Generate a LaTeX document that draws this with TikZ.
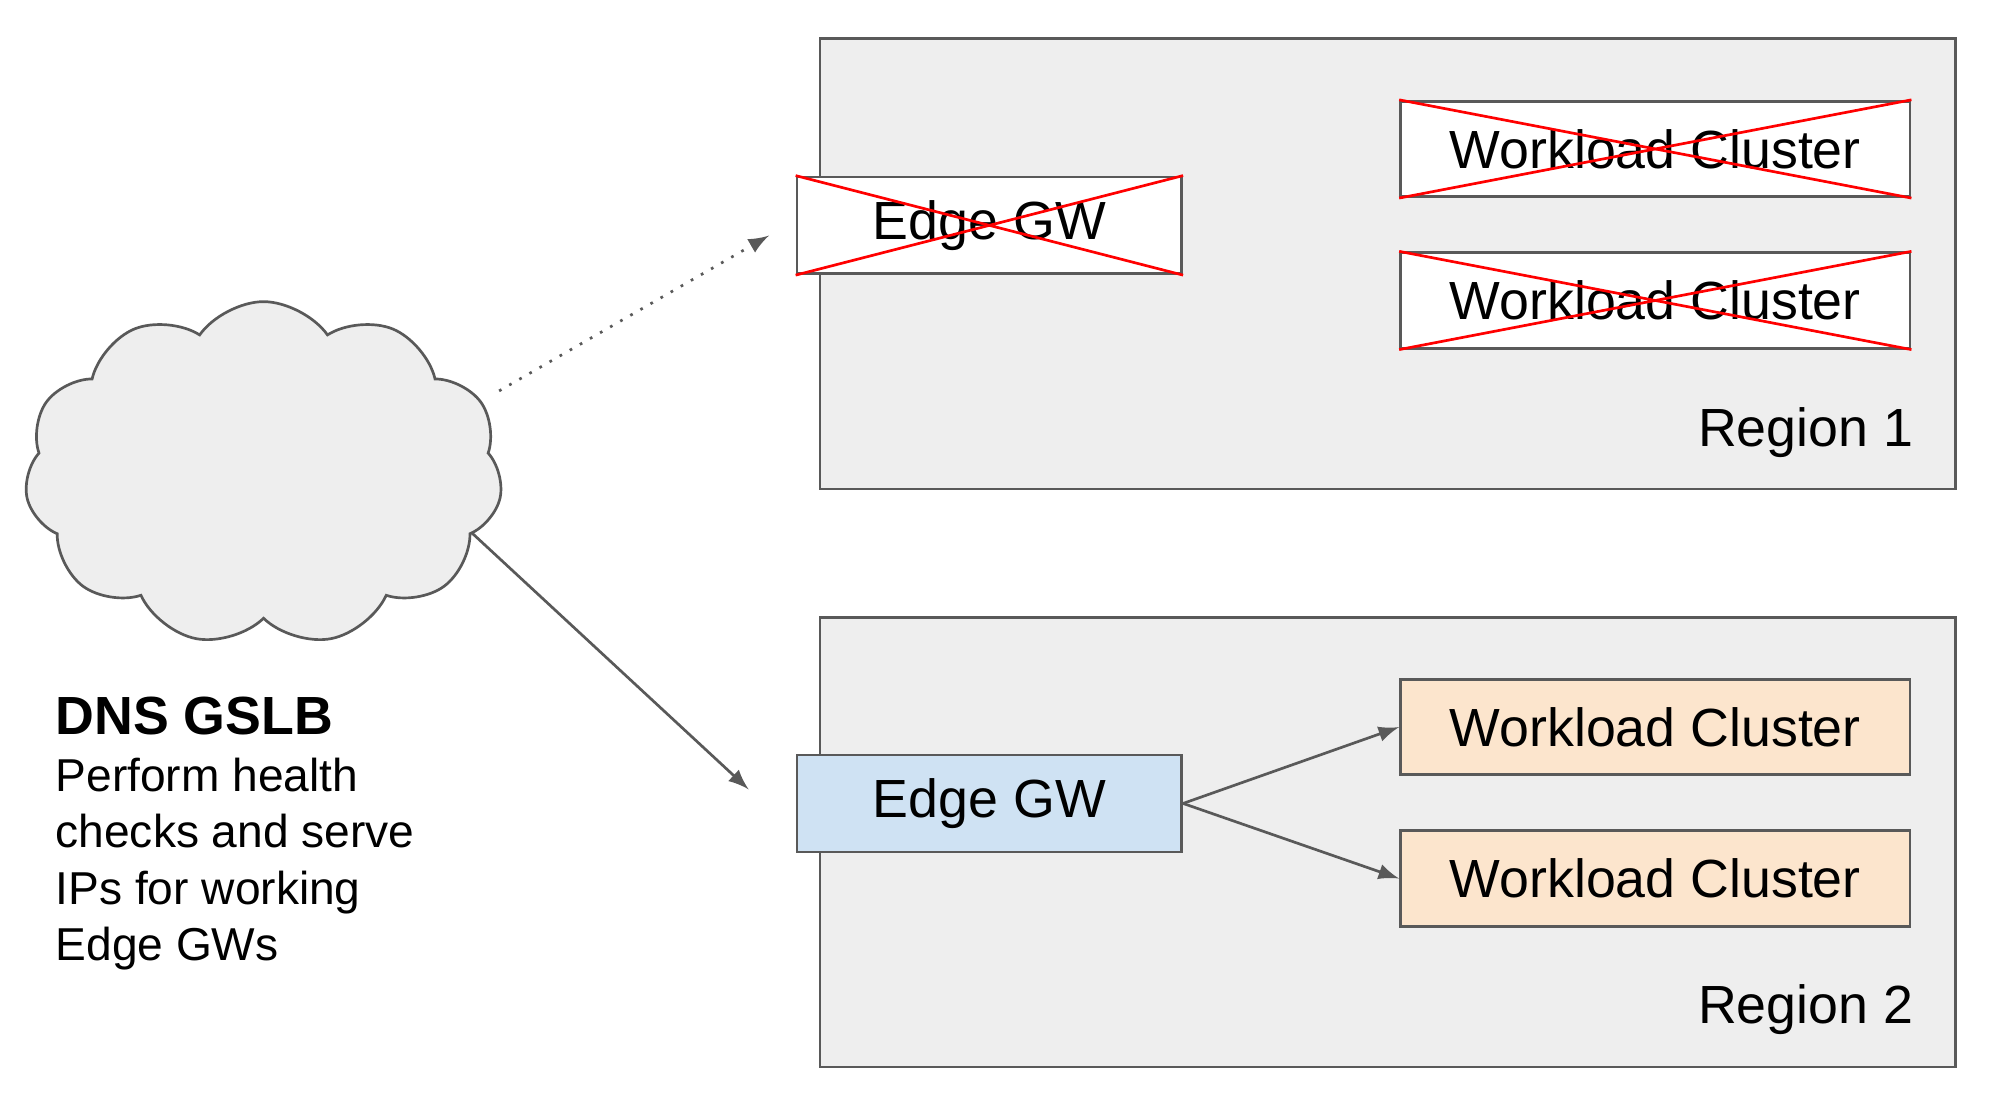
\documentclass[tikz,border=0pt]{standalone}
\usepackage{fontspec}
\setmainfont{Liberation Sans}
\usetikzlibrary{shapes.symbols}
\definecolor{linegray}{RGB}{89,89,89}
\definecolor{regionfill}{RGB}{238,238,238}
\definecolor{gwblue}{RGB}{207,226,243}
\definecolor{wlorange}{RGB}{252,229,205}
\tikzset{>=latex}
\begin{document}
\begin{tikzpicture}[x=0.01cm, y=-0.01cm,
    region/.style={draw=linegray, fill=regionfill, line width=0.6pt},
    box/.style={draw=linegray, line width=0.6pt, font=\fontsize{12}{14}\selectfont, inner sep=0pt},
    gw/.style={box, minimum width=3.02cm, minimum height=0.76cm},
    wl/.style={box, minimum width=4.0cm, minimum height=0.75cm},
    cross/.style={red, line width=0.6pt},
    link/.style={->, draw=linegray, line width=0.6pt}]
  \useasboundingbox (0,0) rectangle (1566,862);
  % regions
  \draw[region] (644,30) rectangle (1536,384);
  \draw[region] (644,485) rectangle (1536,838);
  \node[anchor=south east, font=\fontsize{12}{14}\selectfont] (r1) at (1515,372) {Region 1};
  \node[anchor=south east, font=\fontsize{12}{14}\selectfont] (r2) at (1515,825) {Region 2};

  % region 1 (down)
  \node[gw, fill=white] (gw1) at (777,177) {Edge GW};
  \node[wl, fill=white] (wl1) at (1300,117) {Workload Cluster};
  \node[wl, fill=white] (wl2) at (1300,236) {Workload Cluster};
  \foreach \n in {gw1,wl1,wl2}{
    \draw[cross] (\n.north west) -- (\n.south east);
    \draw[cross] (\n.south west) -- (\n.north east);
  }

  % region 2
  \node[gw, fill=gwblue] (gw2) at (777,631) {Edge GW};
  \node[wl, fill=wlorange] (wl3) at (1300,571) {Workload Cluster};
  \node[wl, fill=wlorange] (wl4) at (1300,690) {Workload Cluster};
  \draw[link] (gw2.east) -- (wl3.west);
  \draw[link] (gw2.east) -- (wl4.west);

  % dns
  \node[cloud, cloud puffs=11, cloud puff arc=110, aspect=1.4, draw=linegray, fill=regionfill,
        line width=0.6pt, minimum width=3.75cm, minimum height=2.7cm] (dns) at (207,372) {};
  \coordinate (t1) at (604,185);
  \coordinate (t2) at (588,620);
  \draw[link, dotted] (392,307) -- (t1);
  \draw[link] (370,418) -- (t2);
  \node[anchor=north west, align=left, font=\fontsize{10.3}{12.6}\selectfont, inner sep=0pt] (txt) at (43,547)
    {{\fontsize{12}{14}\selectfont\bfseries DNS GSLB}\\Perform health\\checks and serve\\IPs for working\\Edge GWs};
\end{tikzpicture}
\end{document}
